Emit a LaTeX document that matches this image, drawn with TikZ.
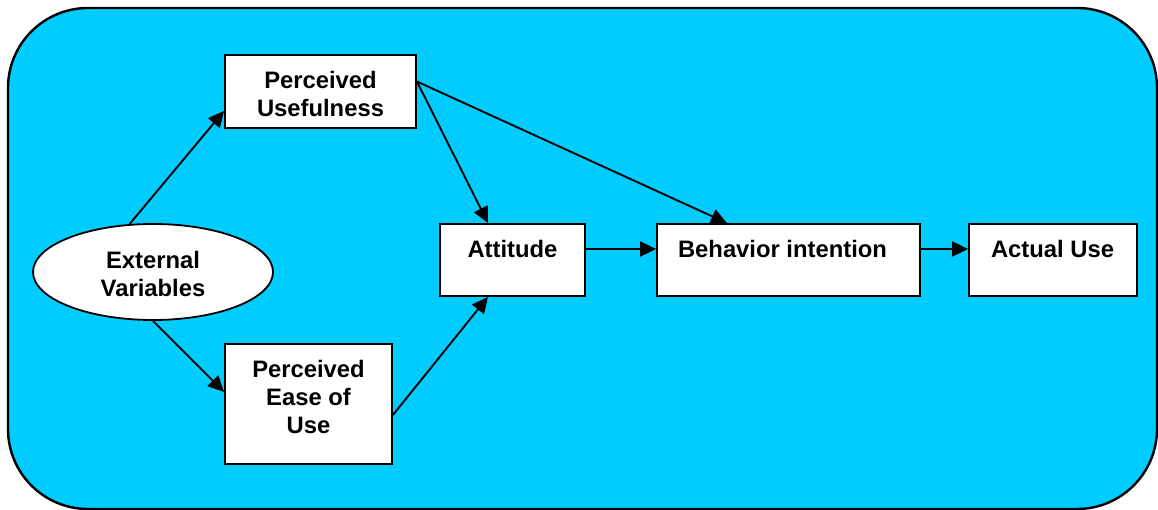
\documentclass[tikz,border=0pt]{standalone}
\usepackage{fontspec}
\setmainfont{Liberation Sans}
\usetikzlibrary{arrows.meta,shapes.geometric,calc}
\definecolor{skyfill}{RGB}{0,204,255}
\tikzset{
  box/.style={draw=black, line width=1.8pt, fill=white, inner sep=0pt},
  oval/.style={ellipse, draw=black, line width=1.8pt, fill=white, inner sep=0pt},
  lbl/.style={font=\fontsize{23.8}{28}\selectfont\bfseries, align=center, inner sep=0pt},
  conn/.style={line width=1.9pt, -{Triangle[length=16pt,width=15pt]}},
}
\begin{document}
\begin{tikzpicture}[x=1pt,y=1pt]
\useasboundingbox (0,0) rectangle (1158,510);
\draw[line width=2.4pt, fill=skyfill, rounded corners=80pt] (8,1) rectangle (1157,502);

\node[box, minimum width=191pt, minimum height=73pt] (pu) at (320.5,418.5) {};
\node[lbl] (puT) at (320.5,416) {Perceived\\Usefulness};

\node[box, minimum width=145pt, minimum height=72pt] (att) at (512.5,250) {};
\node[lbl] (attT) at (512.5,261) {Attitude};

\node[box, minimum width=263pt, minimum height=72pt] (bi) at (788.5,250) {};
\node[lbl] (biT) at (782.5,261) {Behavior intention};

\node[box, minimum width=168pt, minimum height=72pt] (au) at (1053,250) {};
\node[lbl] (auT) at (1052.5,261) {Actual Use};

\node[box, minimum width=167pt, minimum height=120pt] (peou) at (308.5,106) {};
\node[lbl] (peouT) at (308.5,113) {Perceived\\Ease of\\Use};

\node[oval, minimum width=240pt, minimum height=96pt] (ext) at (153,238) {};
\node[lbl] (extT) at (153,236) {External\\Variables};

\draw[conn] (ext.116) -- ($(pu.south west)+(0,18)$);
\draw[conn] (ext.south) -- ($(peou.west)+(0,12)$);
\draw[conn] ($(pu.east)+(0,10)$) -- ($(att.north)+(-24.5,0)$);
\draw[conn] ($(pu.east)+(0,10)$) -- ($(bi.north)+(-61.5,0)$);
\draw[conn] ($(peou.east)+(0,-11)$) -- ($(att.south)+(-24.5,0)$);
\draw[conn] ($(att.east)+(0,11)$) -- ($(bi.west)+(0,11)$);
\draw[conn] ($(bi.east)+(0,11)$) -- ($(au.west)+(0,11)$);
\end{tikzpicture}
\end{document}
